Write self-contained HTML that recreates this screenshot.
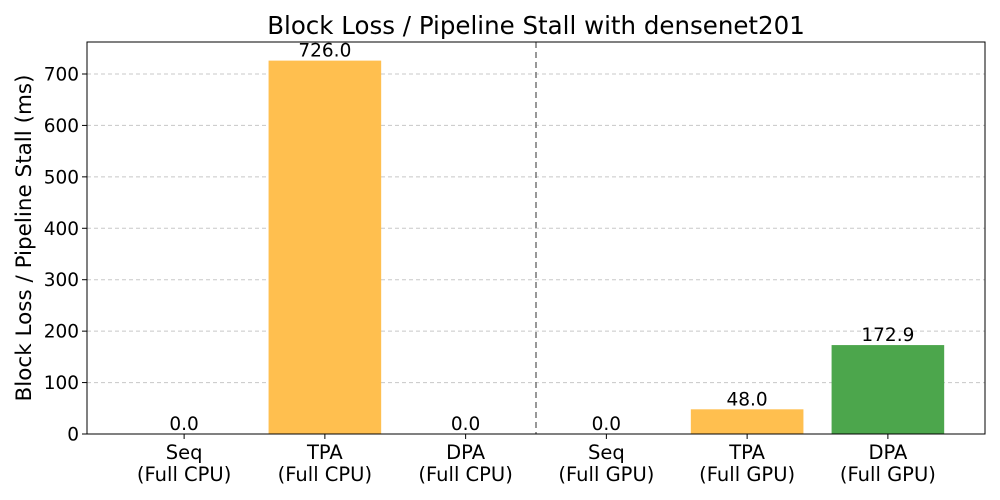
<!DOCTYPE html>
<html><head><meta charset="utf-8"><style>
html,body{margin:0;padding:0;background:#fff;}
svg{display:block;font-family:"DejaVu Sans","Liberation Sans",sans-serif;}
</style></head><body>
<svg id="chart" width="1000" height="500">
<text x="536" y="34" font-size="24.5" text-anchor="middle">Block Loss / Pipeline Stall with densenet201</text>
<text transform="translate(31,238) rotate(-90)" font-size="21.5" text-anchor="middle">Block Loss / Pipeline Stall (ms)</text>
<g id="grid"></g><g id="bars"></g><g id="axes"></g>
</svg>
<script>
const categories = ["Seq\n(Full CPU)","TPA\n(Full CPU)","DPA\n(Full CPU)","Seq\n(Full GPU)","TPA\n(Full GPU)","DPA\n(Full GPU)"];
const values = [0, 726.0, 0, 0, 48.0, 172.9];
const barColors = ["#ffbf4f","#ffbf4f","#ffbf4f","#ffbf4f","#ffbf4f","#4ca64c"];
const yTicks = [0,100,200,300,400,500,600,700];
const L=87,R=985,T=42,B=434;
const yMax=762.2, xMin=-0.69, xMax=5.69;
const ys=v=>B-(v/yMax)*(B-T);
const xs=i=>L+(i-xMin)/(xMax-xMin)*(R-L);
const NS="http://www.w3.org/2000/svg";
function mk(tag,attrs,parent){const e=document.createElementNS(NS,tag);for(const k in attrs)e.setAttribute(k,attrs[k]);parent.appendChild(e);return e;}
const grid=document.getElementById('grid'),bars=document.getElementById('bars'),axes=document.getElementById('axes');
yTicks.forEach(t=>{
  if(t>0){const g=mk('line',{x1:L,x2:R,y1:ys(t),y2:ys(t),stroke:'#c8c8c8','stroke-dasharray':'4,3','stroke-width':1},grid);
  
  }
  mk('line',{x1:L-5,x2:L,y1:ys(t),y2:ys(t),stroke:'#000'},axes);
  const tx=mk('text',{x:L-8,y:ys(t)+6.5,'font-size':18.5,'text-anchor':'end'},axes);
  tx.textContent=t;
  
  
});
const bw=(R-L)/(xMax-xMin)*0.8;
values.forEach((v,i)=>{
  const r=mk('rect',{x:xs(i)-bw/2,y:ys(v),width:bw,height:B-ys(v),fill:barColors[i]},bars);
  
  
  const lb=mk('text',{x:xs(i),y:ys(v)-4,'font-size':18.5,'text-anchor':'middle'},bars);
  lb.textContent=v.toFixed(1);
  
  
  mk('line',{x1:xs(i),x2:xs(i),y1:B,y2:B+5,stroke:'#000'},axes);
  const parts=categories[i].split('\n');
  parts.forEach((p,j)=>{
    const c=mk('text',{x:xs(i),y:B+25+j*22,'font-size':19.5,'text-anchor':'middle'},axes);
    c.textContent=p;
    
    
  });
});
const d=mk('line',{x1:xs(2.5),x2:xs(2.5),y1:T,y2:B,stroke:'#777','stroke-dasharray':'6,4','stroke-width':1.5},bars);


const f=mk('rect',{x:L,y:T,width:R-L,height:B-T,fill:'none',stroke:'#000','stroke-width':1},axes);


</script>
</body></html>
